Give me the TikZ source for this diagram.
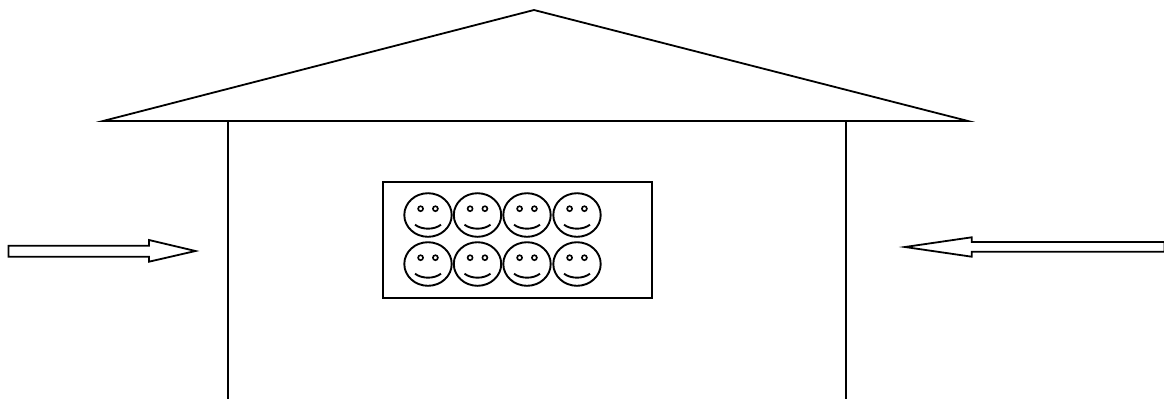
\documentclass[tikz,border=0pt]{standalone}
\tikzset{
  outline/.style={draw=black,line width=1.8pt,line join=miter,miter limit=10},
  smiley/.pic={
    \draw[line width=1.9pt] (0,0) ellipse [x radius=23.7,y radius=21.8];
    \draw[line width=1.6pt] (-7.4,-6.3) circle [radius=2.5];
    \draw[line width=1.6pt] (7.4,-6.3) circle [radius=2.5];
    \draw[line width=1.9pt] (-13,9.7) .. controls (-6,15) and (6,15) .. (13,9.7);
  }
}
\begin{document}
\begin{tikzpicture}[x=1pt,y=-1pt]
\useasboundingbox (0,0) rectangle (1164,399);
% roof
\draw[outline] (534,10) -- (103,121) -- (968,121) -- cycle;
% walls
\draw[outline] (228,121) -- (228,399);
\draw[outline] (846,121) -- (846,399);
% window
\draw[outline] (383,182) rectangle (652,298);
% people
\foreach \cx in {428,477.5,527,577}{
  \foreach \cy in {215,264}{
    \pic at (\cx,\cy) {smiley};
  }
}
% arrows
\draw[outline] (8.5,245.7) -- (149,245.7) -- (149,240) -- (195.5,251) -- (149,261.7) -- (149,256.7) -- (8.5,256.7) -- cycle;
\draw[outline] (1164.5,242) -- (971.7,242) -- (971.7,237.3) -- (905,247) -- (971.7,256.7) -- (971.7,251.7) -- (1164.5,251.7) -- cycle;
\end{tikzpicture}
\end{document}
